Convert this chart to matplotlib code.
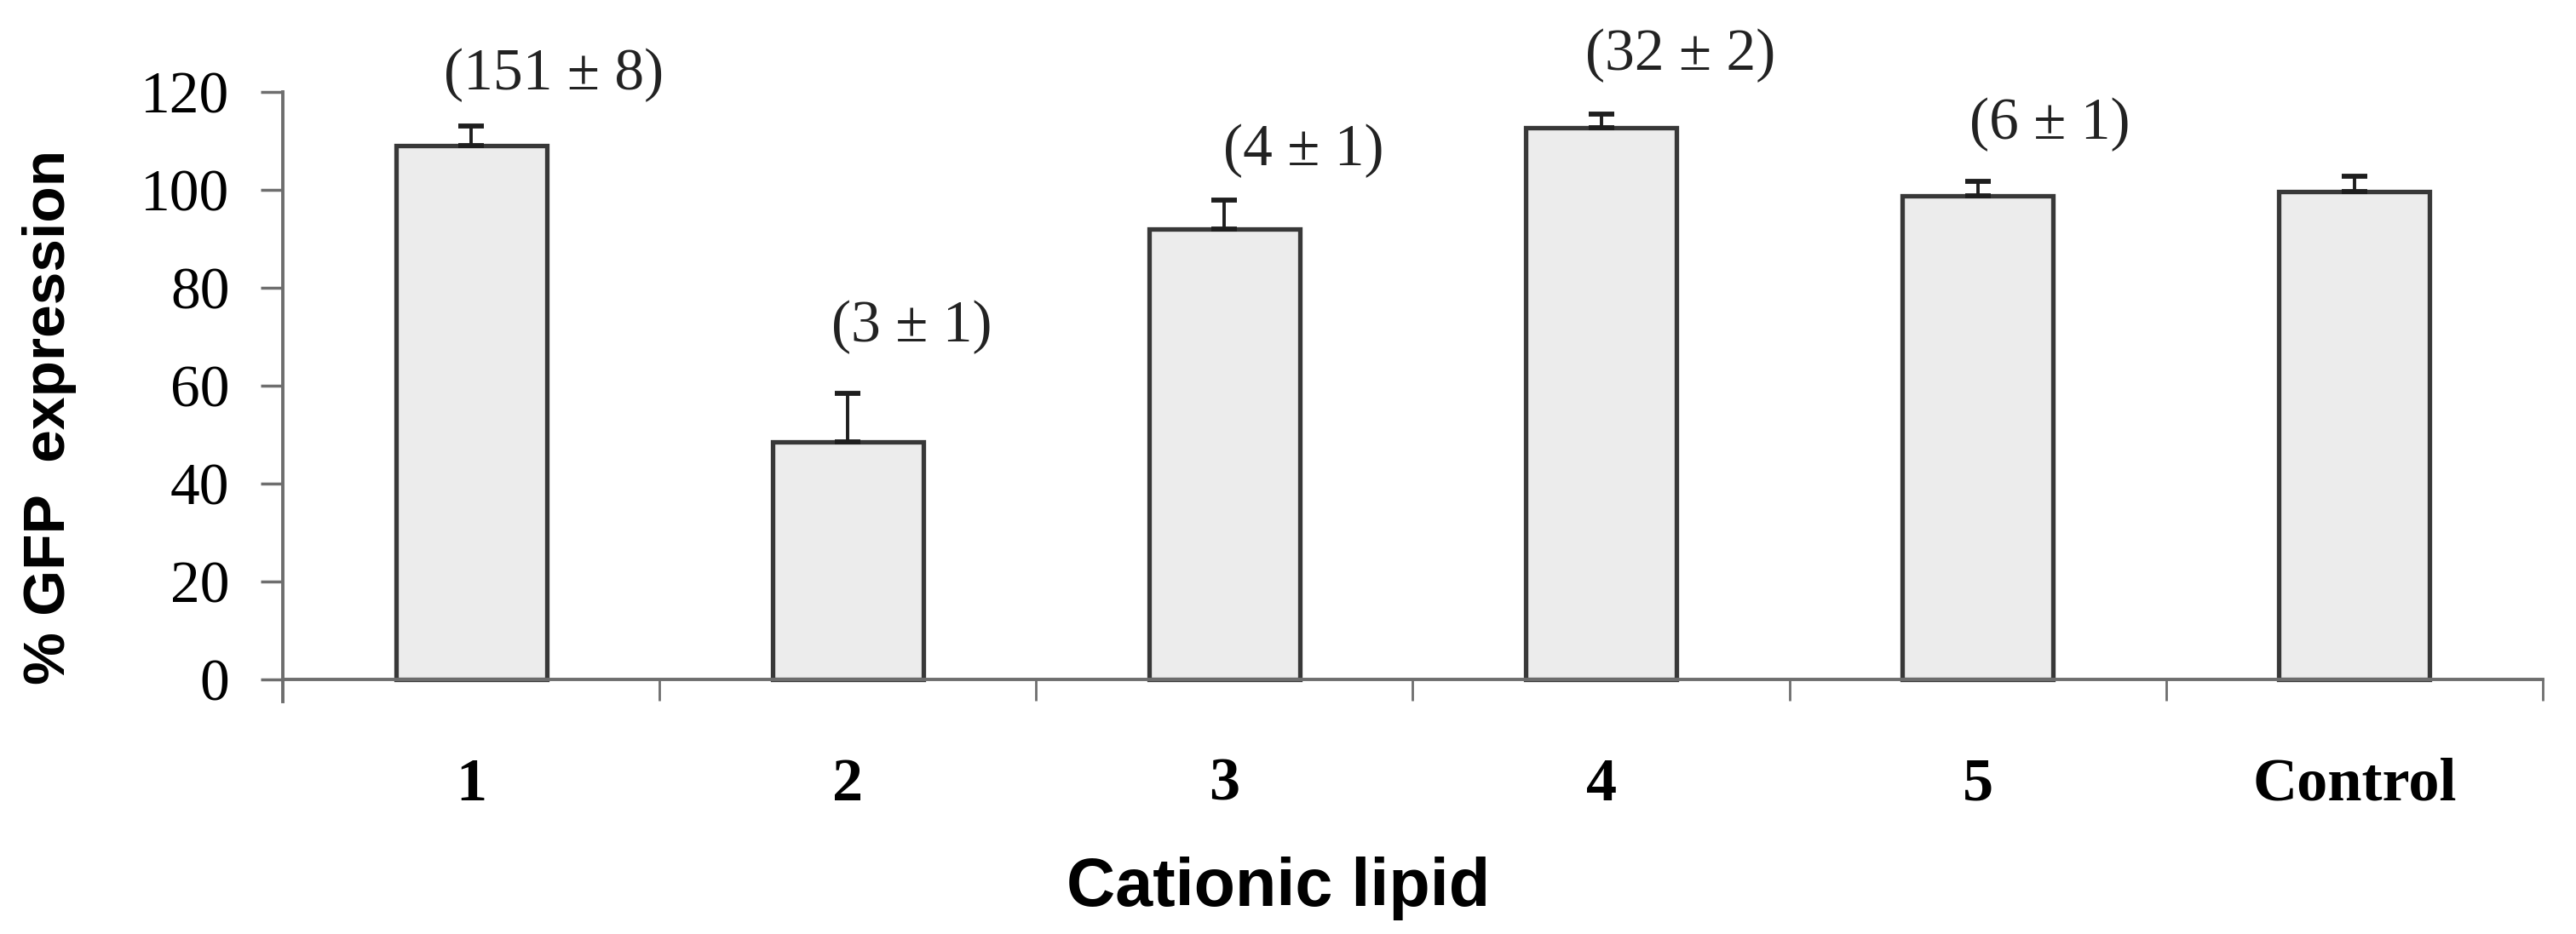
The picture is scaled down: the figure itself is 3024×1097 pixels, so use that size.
import numpy as np
import matplotlib
matplotlib.use("Agg")
import matplotlib.pyplot as plt

# values
lipids = ['1', '2', '3', '4', '5', 'Control']
gfp = [109.0, 48.5, 92.0, 112.7, 98.8, 99.6]
gfp_err = [4.0, 10.0, 6.0, 2.7, 3.0, 3.2]
notes = ['(151 \u00b1 8)', '(3 \u00b1 1)', '(4 \u00b1 1)', '(32 \u00b1 2)', '(6 \u00b1 1)']

# where the notes sit (x offset from bar centre, y in data units)
note_dx = [0.22, 0.17, 0.21, 0.21, 0.19]
note_y = [123.5, 72.0, 108.0, 127.4, 113.4]

serif = 'Liberation Serif'
sans = 'Liberation Sans'
axis_grey = '#6e6e6e'

fig = plt.figure(figsize=(30.24, 10.97), dpi=100)
# y axis runs a little below zero, like the excel original
ax = fig.add_axes([332/3024, 273/1097, 2653/3024, 716/1097])

x = np.arange(len(lipids))
ax.bar(x, gfp, width=0.4, color='#ececec', edgecolor='#383838', linewidth=3.8, zorder=2)
ax.errorbar(x, gfp, yerr=[np.zeros(len(gfp)), gfp_err], fmt='none',
            ecolor='#1e1e1e', elinewidth=2.8, capsize=11, capthick=4.2, zorder=3)

for i, txt in enumerate(notes):
    ax.text(x[i] + note_dx[i], note_y[i], txt, ha='center', va='center',
            fontsize=50, family=serif, color='#222222', clip_on=False)

ax.set_xlim(-0.5, len(lipids) - 0.5)
ax.set_ylim(-4.5, 120)
ax.spines['bottom'].set_position(('data', 0))
ax.set_yticks(np.arange(0, 121, 20))
ax.set_yticklabels([str(v) for v in range(0, 121, 20)], family=serif, fontsize=50)

ax.set_xticks(x)
ax.set_xticklabels(lipids, family=serif, fontsize=52, fontweight='bold')
ax.set_xticks(np.arange(0.5, len(lipids)), minor=True)
ax.tick_params(axis='x', which='major', length=0, pad=66)
ax.tick_params(axis='x', which='minor', length=18, width=2, color=axis_grey)
ax.tick_params(axis='y', length=19, width=2.5, color=axis_grey, pad=26)

for s in ['top', 'right']:
    ax.spines[s].set_visible(False)
for s in ['left', 'bottom']:
    ax.spines[s].set_color(axis_grey)
    ax.spines[s].set_linewidth(2.8)

ax.set_ylabel('% GFP  expression', family=sans, fontweight='bold', fontsize=50, va='center')
ax.yaxis.set_label_coords(-0.1033, 0.4665)
ax.set_xlabel('Cationic lipid', family=sans, fontweight='bold', fontsize=57, va='center')
ax.xaxis.set_label_coords(0.4403, -0.306)

fig.savefig('out.png', dpi=100)
